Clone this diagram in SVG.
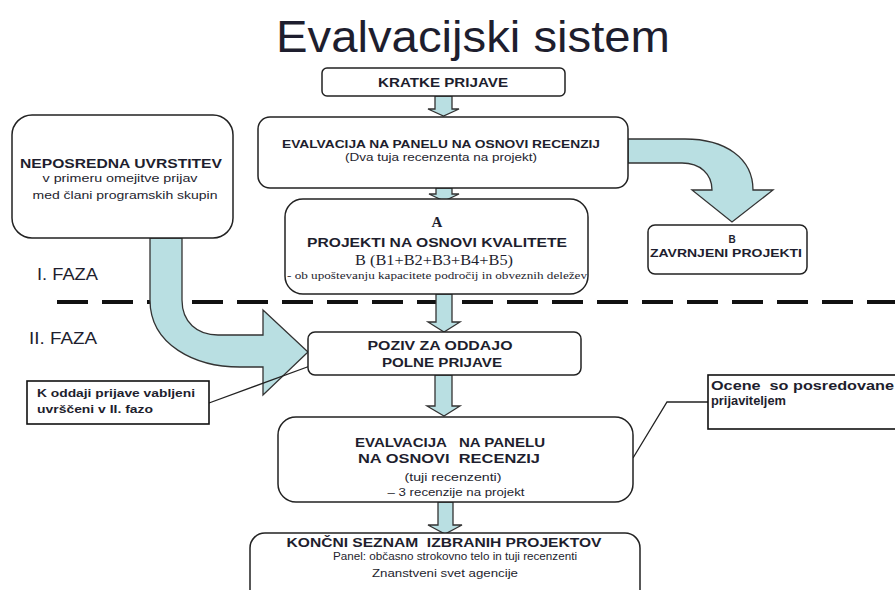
<svg xmlns="http://www.w3.org/2000/svg" width="895" height="590" viewBox="0 0 895 590">
<defs>
<style>
.box{fill:#fff;stroke:#222;stroke-width:1.5}
.arr{fill:#b9dfe2;stroke:#333;stroke-width:1.3;stroke-linejoin:miter}
.t{font-family:"Liberation Sans",Arial,sans-serif;fill:#1e1e2e;text-anchor:middle}
.b{font-weight:bold}
.s{font-family:"Liberation Serif","Times New Roman",serif;fill:#1e1e2e;text-anchor:middle}
.l{text-anchor:start}
.ln{fill:none;stroke:#222;stroke-width:1.3}
</style>
</defs>
<rect width="895" height="590" fill="#fff"/>
<text class="t" x="473" y="52" font-size="44" textLength="394" lengthAdjust="spacingAndGlyphs" fill="#000">Evalvacijski sistem</text>
<text class="t l" x="37" y="280" font-size="17" textLength="61" lengthAdjust="spacingAndGlyphs" fill="#3a3a4a">I. FAZA</text>
<text class="t l" x="29" y="344" font-size="17" textLength="68" lengthAdjust="spacingAndGlyphs" fill="#3a3a4a">II. FAZA</text>
<line x1="57" y1="302" x2="895" y2="302" stroke="#111" stroke-width="4" stroke-dasharray="31 14"/>
<g id="connectors">
<path class="arr" d="M435 96 L452 96 L452 109 L459 109 L443.5 116 L428 109 L435 109 Z"/>
<path class="arr" d="M436 188 L452 188 L452 194 L459 194 L444 201 L429 194 L436 194 Z"/>
<path class="arr" d="M436 294 L452 294 L452 322 L460 322 L444 332 L428 322 L436 322 Z"/>
<path class="arr" d="M435 375 L452 375 L452 406 L460 406 L444 416 L427 406 L435 406 Z"/>
<path class="arr" d="M438 502 L453 502 L453 525 L462 525 L445 534 L428 525 L438 525 Z"/>
<path class="arr" d="M628 139 L685 139 C 725 139 753 158 753 190 L773 190 L732 222 L692 190 L712 190 C 712 174 700 163 682 163 L628 163 Z"/>
<path class="arr" d="M150 238 L150 300 C 150 345 195 367 240 367 L263 367 L263 395 L308 352 L263 310 L263 335 L218 335 C 197 335 182 322 182 300 L182 238 Z"/>
<path class="ln" d="M209 403 L310 366"/>
<path class="ln" d="M708 402 L667 402 L633 458"/>
</g>
<g id="kratke">
<rect class="box" x="322" y="68" width="243" height="28" rx="5"/>
<text class="t b" x="443" y="87" font-size="12" textLength="130" lengthAdjust="spacingAndGlyphs">KRATKE PRIJAVE</text>
</g>
<g id="eval1">
<rect class="box" x="258" y="117" width="370" height="71" rx="12"/>
<text class="t b" x="441" y="148" font-size="11" textLength="318" lengthAdjust="spacingAndGlyphs">EVALVACIJA NA PANELU NA OSNOVI RECENZIJ</text>
<text class="t" x="441" y="161" font-size="10" textLength="192" lengthAdjust="spacingAndGlyphs">(Dva tuja recenzenta na projekt)</text>
</g>
<g id="neposredna">
<rect class="box" x="12" y="115" width="221" height="123" rx="20"/>
<text class="t b" x="121" y="168" font-size="13" textLength="202" lengthAdjust="spacingAndGlyphs">NEPOSREDNA UVRSTITEV</text>
<text class="t" x="120" y="182" font-size="11" textLength="155" lengthAdjust="spacingAndGlyphs">v primeru omejitve prijav</text>
<text class="t" x="125" y="199" font-size="11" textLength="185" lengthAdjust="spacingAndGlyphs">med člani programskih skupin</text>
</g>
<g id="kvaliteta">
<rect class="box" x="285" y="199" width="303" height="95" rx="18"/>
<text class="s b" x="437" y="227" font-size="15">A</text>
<text class="t b" x="437" y="247" font-size="13" textLength="260" lengthAdjust="spacingAndGlyphs">PROJEKTI NA OSNOVI KVALITETE</text>
<text class="s" x="434" y="265" font-size="14" textLength="158" lengthAdjust="spacingAndGlyphs">B (B1+B2+B3+B4+B5)</text>
<text class="s" x="437" y="279" font-size="10" textLength="300" lengthAdjust="spacingAndGlyphs">- ob upoštevanju kapacitete področij in obveznih deležev</text>
</g>
<g id="zavrnjeni">
<rect class="box" x="648" y="225" width="159" height="49" rx="7"/>
<text class="t b" x="732" y="243" font-size="10">B</text>
<text class="t b" x="726" y="257" font-size="11" textLength="152" lengthAdjust="spacingAndGlyphs">ZAVRNJENI PROJEKTI</text>
</g>
<g id="vabljeni">
<rect x="27" y="381" width="182" height="43" fill="#fff" stroke="#111" stroke-width="1.6"/>
<text class="t b l" x="37" y="397" font-size="11" textLength="158" lengthAdjust="spacingAndGlyphs">K oddaji prijave vabljeni</text>
<text class="t b l" x="37" y="413" font-size="11" textLength="116" lengthAdjust="spacingAndGlyphs">uvrščeni v II. fazo</text>
</g>
<g id="poziv">
<rect class="box" x="308" y="332" width="273" height="43" rx="7"/>
<text class="t b" x="440" y="350" font-size="13" textLength="145" lengthAdjust="spacingAndGlyphs">POZIV ZA ODDAJO</text>
<text class="t b" x="442" y="367" font-size="13" textLength="120" lengthAdjust="spacingAndGlyphs">POLNE PRIJAVE</text>
</g>
<g id="eval2">
<rect class="box" x="278" y="417" width="355" height="85" rx="18"/>
<text class="t b" x="450" y="447" font-size="13" textLength="190" lengthAdjust="spacingAndGlyphs" xml:space="preserve">EVALVACIJA   NA PANELU</text>
<text class="t b" x="449" y="463" font-size="13" textLength="182" lengthAdjust="spacingAndGlyphs" xml:space="preserve">NA OSNOVI  RECENZIJ</text>
<text class="t" x="453" y="481" font-size="10" textLength="97" lengthAdjust="spacingAndGlyphs">(tuji recenzenti)</text>
<text class="t" x="456" y="496" font-size="10" textLength="137" lengthAdjust="spacingAndGlyphs">– 3 recenzije na projekt</text>
</g>
<g id="koncni">
<rect class="box" x="250" y="533" width="390" height="80" rx="15"/>
<text class="t b" x="444" y="547" font-size="13" textLength="315" lengthAdjust="spacingAndGlyphs" xml:space="preserve">KONČNI SEZNAM  IZBRANIH PROJEKTOV</text>
<text class="t" x="455" y="560" font-size="10.5" textLength="244" lengthAdjust="spacingAndGlyphs">Panel: občasno strokovno telo in tuji recenzenti</text>
<text class="t" x="445" y="577" font-size="10.5" textLength="146" lengthAdjust="spacingAndGlyphs">Znanstveni svet agencije</text>
</g>
<g id="ocene">
<rect x="708" y="375" width="200" height="54" fill="#fff" stroke="#111" stroke-width="1.6"/>
<text class="t b l" x="711" y="390" font-size="12" textLength="183" lengthAdjust="spacingAndGlyphs" xml:space="preserve">Ocene  so posredovane</text>
<text class="t b l" x="711" y="405" font-size="12" textLength="75" lengthAdjust="spacingAndGlyphs">prijaviteljem</text>
</g>
</svg>
